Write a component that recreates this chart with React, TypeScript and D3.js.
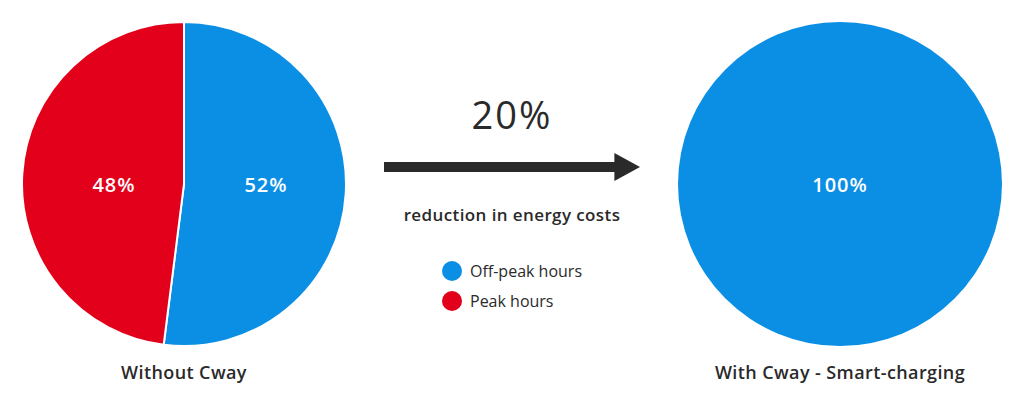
import React from "react";
import * as d3 from "d3";

const categories = ["Off-peak hours", "Peak hours"];
const withoutValues = [52, 48];
const withValues = [100, 0];
const pieTitles = ["Without Cway", "With Cway - Smart-charging"];
const headline = "20%";
const subline = "reduction in energy costs";
const colors = ["#0B8FE5", "#E3001B"];

const W = 1024;
const H = 406;
const R = 162;
const textColor = "#2a2a2a";
const font = "'Open Sans', 'Noto Sans', sans-serif";

function Pie({ cx, cy, values, title }: { cx: number; cy: number; values: number[]; title: string }) {
  const pie = d3.pie<number>().sort(null).value((d) => d)(values);
  const arc = d3.arc<d3.PieArcDatum<number>>().innerRadius(0).outerRadius(R);
  const labelArc = d3.arc<d3.PieArcDatum<number>>().innerRadius(R * 0.47).outerRadius(R * 0.47);
  const nonZero = pie.filter((p) => p.value > 0);
  return (
    <g>
      <g transform={`translate(${cx},${cy})`}>
        {nonZero.map((p, i) => (
          <path
            key={i}
            d={arc(p) || ""}
            fill={colors[p.index]}
            stroke={nonZero.length > 1 ? "#fff" : "none"}
            strokeWidth={2}
          />
        ))}
        {nonZero.map((p, i) => {
          const x = nonZero.length > 1 ? labelArc.centroid(p)[0] + 6 : 0;
          return (
            <text
              key={"t" + i}
              x={x}
              y={8}
              textAnchor="middle"
              fill="#fff"
              fontSize={20}
              fontWeight={600}
              letterSpacing={1}
              fontFamily={font}
            >
              {p.value}%
            </text>
          );
        })}
      </g>
      <text
        x={cx}
        y={379}
        textAnchor="middle"
        fill={textColor}
        fontSize={18}
        fontWeight={600}
        letterSpacing={0.4}
        fontFamily={font}
      >
        {title}
      </text>
    </g>
  );
}

export default function App() {
  const ax = d3.scaleLinear().domain([0, 1]).range([384, 640]);
  const ay = 167;
  return (
    <svg width={W} height={H} style={{ position: "absolute", left: 0, top: 0, background: "#fff" }}>
      <Pie cx={184} cy={184} values={withoutValues} title={pieTitles[0]} />
      <Pie cx={840} cy={184} values={withValues} title={pieTitles[1]} />
      <text x={512} y={129} textAnchor="middle" fill={textColor} fontSize={38} fontWeight={500} letterSpacing={2} fontFamily={font}>
        {headline}
      </text>
      <rect x={ax(0)} y={ay - 5} width={ax(0.91) - ax(0)} height={10} fill={textColor} />
      <path
        d={`M${ax(0.9)},${ay - 14} L${ax(1)},${ay} L${ax(0.9)},${ay + 14} Z`}
        fill={textColor}
      />
      <text x={512} y={221} textAnchor="middle" fill={textColor} fontSize={17} fontWeight={600} letterSpacing={0.4} fontFamily={font}>
        {subline}
      </text>
      {categories.map((c, i) => (
        <g key={c} transform={`translate(452,${271 + i * 30})`}>
          <circle r={10} fill={colors[i]} />
          <text x={18} dy="0.35em" fill={textColor} fontSize={16} fontFamily={font}>
            {c}
          </text>
        </g>
      ))}
    </svg>
  );
}
